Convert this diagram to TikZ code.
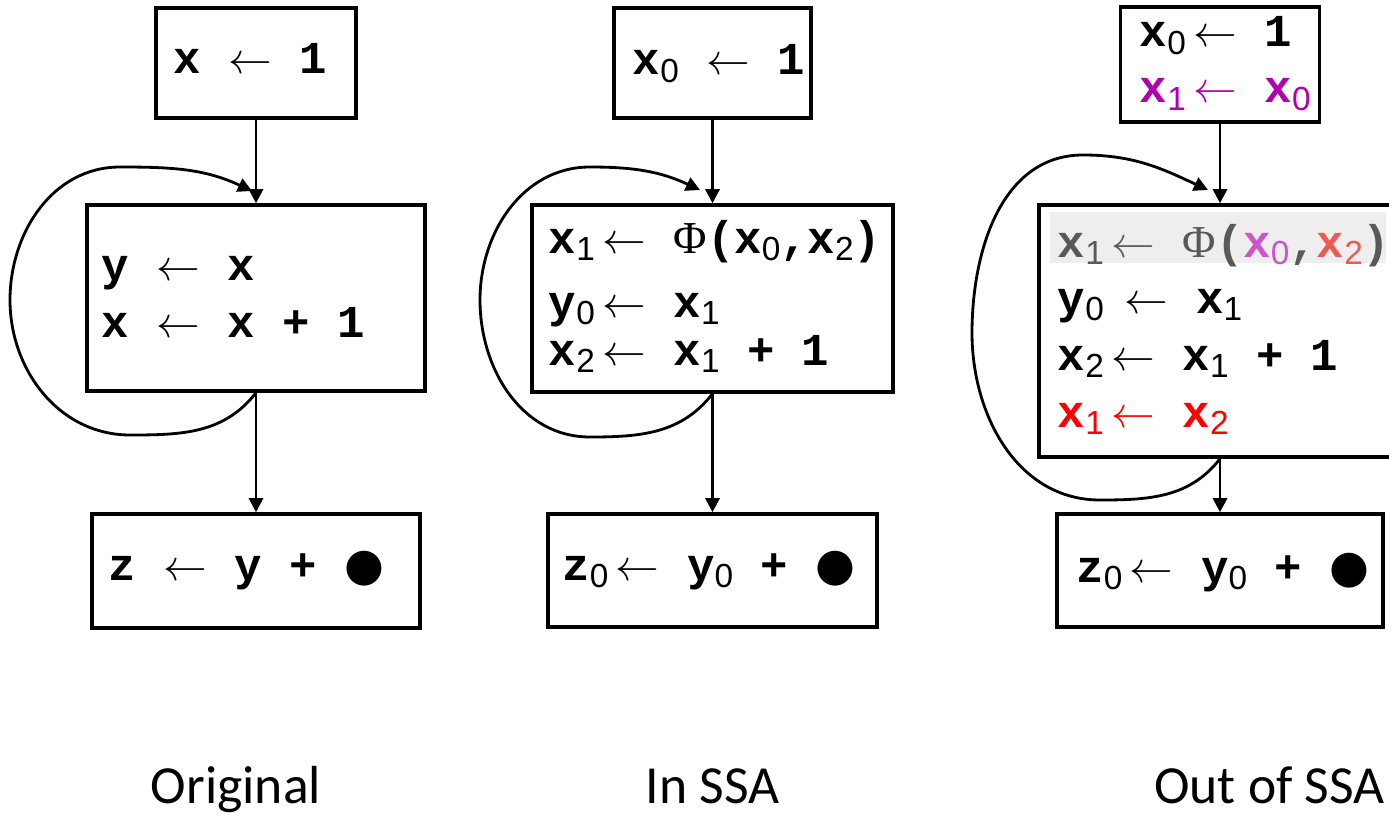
\documentclass[tikz,border=0pt]{standalone}
\usepackage{fontspec}
\usetikzlibrary{arrows.meta}
\newfontfamily\codefont{Liberation Mono}
\newfontfamily\subfont{Liberation Sans}
\newfontfamily\serfont{Liberation Serif}
\newfontfamily\labfont{Carlito}
\newfontfamily\symfont{DejaVu Sans}
\definecolor{phigray}{HTML}{595959}
\definecolor{hlgray}{HTML}{EEEEEE}
\definecolor{mag}{HTML}{B000B0}
\definecolor{lmag}{HTML}{CC55CC}
\definecolor{lred}{HTML}{EE5A50}
\newcommand\ix[1]{\raisebox{-4.5pt}{\mdseries\subfont\fontsize{19}{22}\selectfont #1}}
\newcommand\asg{$\leftarrow$}
\newcommand\Phisym{{\mdseries\serfont Φ}}
\newcommand\blob{{\mdseries\symfont ●}}

\begin{document}
\begin{tikzpicture}[
    blk/.style={draw, line width=2pt, inner sep=0pt},
    code/.style={inner sep=0pt, anchor=base west, font=\codefont\bfseries\fontsize{26}{30}\selectfont},
    flow/.style={-{Triangle[length=8pt,width=8pt]}, line width=1.6pt},
    lab/.style={anchor=base, font=\labfont\fontsize{30.5}{36}\selectfont}]
        \useasboundingbox (0,0) rectangle (27.78,-16.34);

        % original
        \node[blk, minimum width=4cm, minimum height=2.2cm] (t1) at (5.12,-1.26) {};
        \node[blk, minimum width=6.76cm, minimum height=3.72cm] (m1) at (5.12,-5.96) {};
        \node[blk, minimum width=6.56cm, minimum height=2.28cm] (b1) at (5.12,-11.42) {};
        \node[code] (t1a) at (3.47,-1.48) {x \asg{} 1};
        \node[code] (m1a) at (2.03,-5.6) {y \asg{} x};
        \node[code] (m1b) at (2.03,-6.74) {x \asg{} x + 1};
        \node[code] (b1a) at (2.17,-11.6) {z \asg{} y + \blob};

        % in SSA
        \node[blk, minimum width=3.94cm, minimum height=2.2cm] (t2) at (14.25,-1.26) {};
        \node[blk, minimum width=7.22cm, minimum height=3.74cm] (m2) at (14.25,-5.97) {};
        \node[blk, minimum width=6.58cm, minimum height=2.26cm] (b2) at (14.25,-11.41) {};
        \node[code] (t2a) at (12.65,-1.5) {x\ix0 \asg{} 1};
        \node[code] (m2a) at (10.97,-5.06) {x\ix1\,\asg{} \Phisym(x\ix0,x\ix2)};
        \node[code] (m2b) at (10.97,-6.34) {y\ix0\,\asg{} x\ix1};
        \node[code] (m2c) at (10.97,-7.3) {x\ix2\,\asg{} x\ix1 + 1};
        \node[code] (b2a) at (11.24,-11.6) {z\ix0\,\asg{} y\ix0 + \blob};

        % out of SSA
        \node[blk, minimum width=3.98cm, minimum height=2.3cm] (t3) at (24.4,-1.29) {};
        \node[blk, minimum width=7.24cm, minimum height=5.04cm] (m3) at (24.4,-6.62) {};
        \node[blk, minimum width=6.52cm, minimum height=2.26cm] (b3) at (24.4,-11.41) {};
        \fill[hlgray] (21.0,-4.24) rectangle (27.72,-5.26);
        \node[code] (t3a) at (22.79,-0.94) {x\ix0\,\asg{} 1};
        \node[code, mag] (t3b) at (22.79,-2.06) {x\ix1\,\asg{} x\ix0};
        \node[code, phigray] (m3a) at (21.15,-5.14) {x\ix1\,\asg{} \Phisym({\color{lmag}x\ix0},{\color{lred}x\ix2})};
        \node[code] (m3b) at (21.15,-6.26) {y\ix0\kern12pt\asg{} x\ix1};
        \node[code] (m3c) at (21.15,-7.4) {x\ix2\,\asg{} x\ix1 + 1};
        \node[code, red] (m3d) at (21.15,-8.54) {x\ix1\,\asg{} x\ix2};
        \node[code] (b3a) at (21.52,-11.64) {z\ix0\,\asg{} y\ix0 + \blob};

        \foreach \p in {1,2,3} {
            \draw[flow] (t\p) -- (m\p);
            \draw[flow] (m\p) -- (b\p);
        }

        % back edges
        \coordinate (s1b) at (2.6,-8.7);
        \coordinate (s1w) at (0.2,-6.0);
        \coordinate (s1n) at (2.4,-3.34);
        \coordinate (s1t) at (5.04,-3.82);
        \coordinate (s2b) at (11.8,-8.74);
        \coordinate (s2w) at (9.6,-6.0);
        \coordinate (s2n) at (11.8,-3.34);
        \coordinate (s2t) at (14.0,-3.8);
        \coordinate (s3b) at (22.0,-10.0);
        \coordinate (s3w) at (19.44,-6.66);
        \coordinate (s3n) at (21.66,-3.1);
        \coordinate (s3t) at (24.16,-3.8);
        \foreach \p in {1,2,3}
            \draw[flow] (m\p.south) to[out=232,in=0] (s\p b) to[out=180,in=270] (s\p w)
                to[out=90,in=180] (s\p n) to[out=0,in=155] (s\p t);

        \node[lab] (cap1) at (4.72,-16.06) {Original};
        \node[lab] (cap2) at (14.25,-16.06) {In SSA};
        \node[lab] (cap3) at (25.39,-16.06) {Out of SSA};
    \end{tikzpicture}
\end{document}
